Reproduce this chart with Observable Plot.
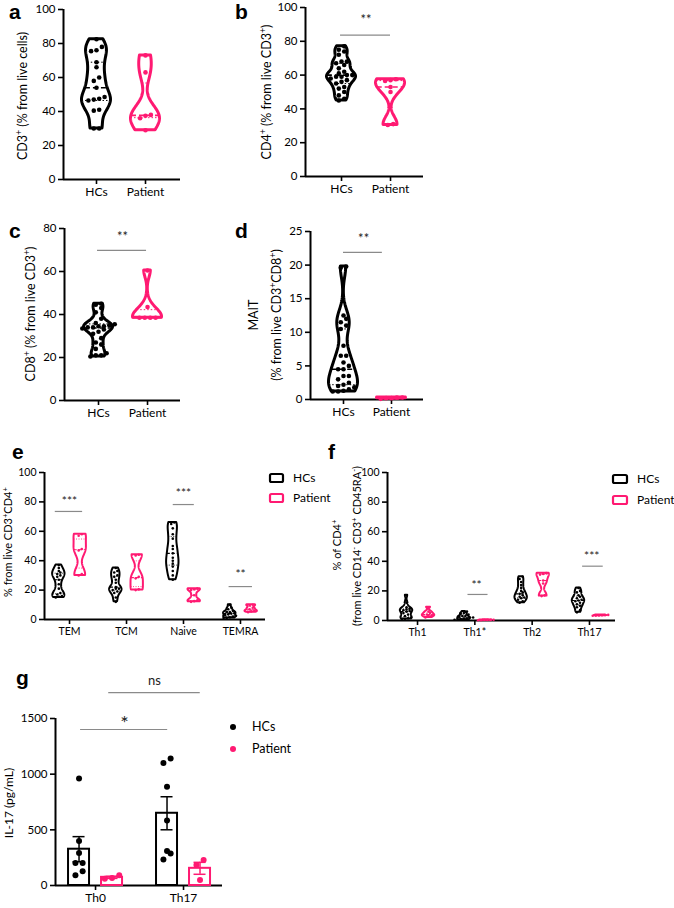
<!DOCTYPE html>
<html><head><meta charset="utf-8">
<script src="https://cdn.jsdelivr.net/npm/d3@7"></script>
<script src="https://cdn.jsdelivr.net/npm/@observablehq/plot@0.6"></script>
<style>
body{margin:0;background:#fff;}
#fig{position:relative;width:674px;height:908px;overflow:hidden;background:#fff;}
</style></head><body><div id="fig"></div>
<script>
const PINK = "#ff1a72";
const BLACK = "#000000";
const FONT = "Lato, 'Open Sans', sans-serif";

// ---------- data ----------
const groupsAD = ["HCs", "Patient"];
// a: CD3+ (% from live cells)
const aHCs = [82.5, 78, 76, 75.5, 69, 66, 60, 58, 54, 48.5, 47.5, 47, 46.5, 41, 40.5, 30, 30];
const aPatient = [73, 63, 38, 37.5, 36, 29];
// b: CD4+ (% from live CD3+)
const bHCs = [77, 75, 74, 72, 68, 68, 67, 66, 64, 62, 61, 60, 60, 59, 59, 58, 57, 56, 55, 53, 52, 50, 48, 46, 45];
const bPatient = [57.5, 57, 56.5, 53, 50, 31, 30.5];
// c: CD8+ (% from live CD3+)
const cHCs = [45, 44.5, 43, 41, 38, 36, 35.5, 35, 34.5, 34.5, 34, 34, 33.5, 33, 32, 31, 29, 27, 26, 24, 22, 21, 21, 20.5];
const cPatient = [60.5, 43.5, 38.5, 38.5, 38.5, 38.5];
// d: MAIT (% from live CD3+CD8+)
const dHCs = [19.8, 19.6, 12.5, 12, 11.5, 11, 10.5, 8, 6.5, 6.5, 5.5, 5, 4.5, 4.5, 3.5, 3.5, 3, 2.5, 2.2, 2, 1.8, 1.5, 1.3, 1.2, 1.2];
const dPatient = [0.1, 0.2, 0.2, 0.3, 0.3];
// e: % from live CD3+CD4+
const eCats = ["TEM", "TCM", "Naive", "TEMRA"];
const eHCs = [
  [37, 35, 33, 32, 31, 30, 29, 27, 24, 21, 18, 17, 16, 15.5, 15],
  [35, 33, 32, 30, 29, 27, 25, 22, 21, 21, 20, 19, 18, 15, 12],
  [66, 65, 62, 58, 55, 50, 48, 45, 42, 40, 38, 36, 33, 30, 27],
  [10, 8, 7, 6, 5, 5, 4.5, 4, 3.5, 3, 2.5, 2, 1.5, 1, 1]
];
const ePatient = [
  [58, 57, 48, 47, 31, 30],
  [44, 43.5, 29, 28, 20.5, 20],
  [21, 20.5, 20, 16.5, 13, 12.5, 12],
  [10, 9.5, 8, 7, 6, 5.5, 5]
];
// f: % of CD4+ (from live CD14- CD3+ CD45RA-)
const fCats = ["Th1", "Th1*", "Th2", "Th17"];
const fHCs = [
  [17, 12, 9, 8, 7.5, 7, 6.5, 6, 5, 4, 3, 2, 1.5, 1, 1],
  [6, 5, 4.5, 4, 3, 3, 2.5, 2, 2, 1.5, 1, 1, 0.5, 0.5],
  [29.5, 28, 26, 24, 22, 20, 19, 18, 17, 16, 15.5, 15, 14, 13, 12],
  [22, 20, 19, 17, 16, 15, 14, 13.5, 13, 12, 11, 10, 9, 7, 5.5]
];
const fPatient = [
  [9, 6, 5, 4, 3.5, 3, 2],
  [0.5, 0.4, 0.3, 0.3, 0.2, 0.2],
  [32, 31.5, 31, 27, 25, 17, 16.5],
  [3.8, 3.7, 3.5, 3.4, 3.3, 3.2]
];
// g: IL-17 (pg/mL)
const gCats = ["Th0", "Th17"];
const gHCs = [[962, 400, 293, 203, 203, 128, 93], [1141, 1100, 887, 583, 311, 287, 233]];
const gPatient = [[92, 68, 60], [228, 185, 50]];

const ticks100 = [0, 20, 40, 60, 80, 100];
const ticks80 = [0, 20, 40, 60, 80];
const ticks25 = [0, 5, 10, 15, 20, 25];
const ticks1500 = [0, 500, 1000, 1500];

// ---------- helpers ----------
const fig = document.getElementById("fig");

function kdeAt(values, h, y) {
  let s = 0;
  for (const v of values) { const u = (y - v) / h; s += Math.exp(-0.5 * u * u); }
  return s;
}

function rowsSpread(values, cx, P) {
  const s = 2 * P.r + P.gap;
  const sorted = [...values].sort((a, b) => a - b);
  const rows = [];
  for (const v of sorted) {
    const ypx = v * P.pxY;
    const last = rows[rows.length - 1];
    if (last && ypx - last.start < s * 0.85) last.items.push(v);
    else rows.push({start: ypx, items: [v]});
  }
  const out = [];
  for (const row of rows) {
    const m = row.items.length;
    row.items.forEach((v, i) => out.push({x: cx + ((i - (m - 1) / 2) * s) / P.pxX, y: v}));
  }
  return out;
}

function violinMarks(values, cx, color, P) {
  const min = d3.min(values), max = d3.max(values), n = values.length;
  const sd = d3.deviation(values) || 0;
  let h = P.bw * sd * Math.pow(n, -0.2);
  h = Math.max(h, (max - min) * 0.05, 1e-3);
  const N = 90;
  const ys = d3.range(N + 1).map(i => min + (max - min) * i / N);
  const dens = ys.map(y => kdeAt(values, h, y));
  const dmax = d3.max(dens);
  const hwU = P.hw / P.pxX;
  const shape = ys.map((y, i) => ({y, x1: cx - dens[i] / dmax * hwU, x2: cx + dens[i] / dmax * hwU}));
  const q = [0.25, 0.5, 0.75].map(p => {
    const y = d3.quantile(values, p);
    const w = kdeAt(values, h, y) / dmax * hwU;
    return {p, y, x1: cx - w, x2: cx + w};
  });
  const dots = rowsSpread(values, cx, P);
  return [
    Plot.areaX(shape, {y: "y", x1: "x1", x2: "x2", fill: "white", stroke: color, strokeWidth: P.sw, strokeLinejoin: "round", curve: "linear"}),
    Plot.ruleY(q.filter(d => d.p !== 0.5), {y: "y", x1: "x1", x2: "x2", stroke: color, strokeWidth: P.qw, strokeDasharray: P.qdash}),
    Plot.ruleY(q.filter(d => d.p === 0.5), {y: "y", x1: "x1", x2: "x2", stroke: color, strokeWidth: P.mw, strokeDasharray: P.mdash}),
    Plot.dot(dots, {x: "x", y: "y", r: P.r, fill: color, stroke: "none"})
  ];
}

function statMarks(stats) {
  const m = [];
  for (const s of stats) {
    m.push(Plot.ruleY([s], {y: "y", x1: "x1", x2: "x2", stroke: "#8a8a8a", strokeWidth: 1.2}));
    m.push(Plot.text([s], {x: "tx", y: "ty", text: "label", fontSize: s.size, fill: "#222", fontWeight: s.weight || "normal"}));
  }
  return m;
}

function place(svg, left, top) {
  svg.style.position = "absolute";
  svg.style.left = left + "px";
  svg.style.top = top + "px";
  fig.appendChild(svg);
}

function basePlot(P, marks) {
  return Plot.plot({
    width: P.width, height: P.height,
    marginLeft: P.ml, marginRight: P.mr, marginTop: P.mt, marginBottom: P.mb,
    x: {domain: P.xDomain},
    y: {domain: P.yDomain},
    style: {fontFamily: FONT, fontSize: P.tickFont + "px", color: "#000", background: "transparent", overflow: "visible"},
    marks: [
      Plot.axisY({ticks: P.yTicks, tickSize: 5, tickPadding: 3, fontSize: P.tickFont, strokeWidth: 1.6, label: null, tickFormat: d => String(d)}),
      Plot.axisX({ticks: d3.range(1, P.cats.length + 1), tickSize: 5, tickPadding: 3, fontSize: P.catFont, strokeWidth: 1.6, label: null, tickFormat: d => P.cats[Math.round(d) - 1]}),
      Plot.ruleX([P.xDomain[0]], {strokeWidth: 2}),
      Plot.ruleY([P.yDomain[0]], {strokeWidth: 2}),
      ...marks
    ]
  });
}

function violinPanel(P) {
  P.pxX = (P.width - P.ml - P.mr) / (P.xDomain[1] - P.xDomain[0]);
  P.pxY = (P.height - P.mt - P.mb) / (P.yDomain[1] - P.yDomain[0]);
  const marks = [];
  P.series.forEach(s => {
    s.data.forEach((vals, i) => {
      marks.push(...violinMarks(vals, i + 1 + s.offset / P.pxX, s.color, P));
    });
  });
  marks.push(...statMarks(P.stats || []));
  place(basePlot(P, marks), P.left, P.top);
}

const bigStyle = {hw: 14.5, sw: 3, r: 2.3, gap: 0.8, bw: 0.55, qw: 1, qdash: "1.5,2", mw: 1.6, mdash: "5,3", tickFont: 11.5, catFont: 12};
const smallStyle = {hw: 6.2, sw: 2, r: 1.3, gap: 0.5, bw: 0.55, qw: 0.8, qdash: "1,1.5", mw: 1.1, mdash: "3,2", tickFont: 10.5, catFont: 10.5};

// a
violinPanel({...bigStyle, left: 0, top: 0, width: 190, height: 205, ml: 63, mr: 10, mt: 9, mb: 26,
  xDomain: [0.327, 2.714], yDomain: [0, 100], yTicks: ticks100, cats: groupsAD,
  series: [{data: [aHCs], offset: 0, color: BLACK}, {data: [aPatient], offset: 49, color: PINK}]
});
// b
violinPanel({...bigStyle, left: 240, top: 0, width: 190, height: 205, ml: 65, mr: 7, mt: 7, mb: 29,
  xDomain: [0.265, 2.673], yDomain: [0, 100], yTicks: ticks100, cats: groupsAD,
  series: [{data: [bHCs], offset: 0, color: BLACK}, {data: [bPatient], offset: 49, color: PINK}],
  stats: [{x1: 0.98, x2: 2.0, y: 83.6, tx: 1.5, ty: 92.5, label: "**", size: 13}]
});
// c
violinPanel({...bigStyle, left: 0, top: 215, width: 190, height: 210, ml: 64, mr: 10, mt: 13, mb: 25,
  xDomain: [0.306, 2.673], yDomain: [0, 80], yTicks: ticks80, cats: groupsAD,
  series: [{data: [cHCs], offset: 0, color: BLACK}, {data: [cPatient], offset: 49, color: PINK}],
  stats: [{x1: 0.98, x2: 1.98, y: 69.8, tx: 1.49, ty: 76, label: "**", size: 13}]
});
// d
violinPanel({...bigStyle, left: 240, top: 215, width: 190, height: 210, ml: 70, mr: 7, mt: 16, mb: 26,
  xDomain: [0.3125, 2.667], yDomain: [0, 25], yTicks: ticks25, cats: groupsAD,
  series: [{data: [dHCs], offset: 0, color: BLACK}, {data: [dPatient], offset: 48, color: PINK}],
  stats: [{x1: 1.0, x2: 1.81, y: 21.9, tx: 1.42, ty: 23.9, label: "**", size: 13}]
});
// e
violinPanel({...smallStyle, left: 0, top: 460, width: 275, height: 180, ml: 44, mr: 10, mt: 12, mb: 21,
  xDomain: [0.561, 4.439], yDomain: [0, 100], yTicks: ticks100, cats: eCats,
  series: [{data: eHCs, offset: -10.7, color: BLACK}, {data: ePatient, offset: 10.7, color: PINK}],
  stats: [
    {x1: 0.75, x2: 1.23, y: 73.5, tx: 1.0, ty: 80.6, label: "***", size: 12},
    {x1: 2.82, x2: 3.19, y: 78.2, tx: 3.0, ty: 85.7, label: "***", size: 12},
    {x1: 3.8, x2: 4.21, y: 22.4, tx: 4.0, ty: 30.6, label: "**", size: 12}
  ]
});
// f
violinPanel({...smallStyle, left: 330, top: 460, width: 300, height: 180, ml: 57, mr: 15, mt: 12, mb: 20,
  xDomain: [0.476, 4.454], yDomain: [0, 100], yTicks: ticks100, cats: fCats,
  series: [{data: fHCs, offset: -11, color: BLACK}, {data: fPatient, offset: 11, color: PINK}],
  stats: [
    {x1: 1.88, x2: 2.23, y: 17.6, tx: 2.03, ty: 24, label: "**", size: 12},
    {x1: 3.88, x2: 4.24, y: 36.7, tx: 4.04, ty: 43.2, label: "***", size: 12}
  ]
});

// g: bars with mean ± SEM
(function () {
  const P = {left: 0, top: 670, width: 230, height: 238, ml: 55, mr: 8, mt: 48, mb: 23,
    xDomain: [0.545, 2.443], yDomain: [0, 1500], yTicks: ticks1500, cats: gCats, tickFont: 11.5, catFont: 12,
    r: 3, gap: 1.2};
  P.pxX = (P.width - P.ml - P.mr) / (P.xDomain[1] - P.xDomain[0]);
  P.pxY = (P.height - P.mt - P.mb) / (P.yDomain[1] - P.yDomain[0]);
  const halfBar = 10.5 / P.pxX, capHalf = 6 / P.pxX;
  const summary = [];
  const dots = [];
  [[gHCs, -16.5, BLACK], [gPatient, 16.5, PINK]].forEach(([data, off, color]) => {
    data.forEach((vals, i) => {
      const cx = i + 1 + off / P.pxX;
      const mean = d3.mean(vals);
      const sem = d3.deviation(vals) / Math.sqrt(vals.length);
      summary.push({cx, mean, lo: mean - sem, hi: mean + sem, color});
      rowsSpread(vals, cx, P).forEach(d => dots.push({...d, color}));
    });
  });
  const marks = [
    Plot.rectY(summary, {x1: d => d.cx - halfBar, x2: d => d.cx + halfBar, y1: 0, y2: "mean", fill: "white", stroke: "color", strokeWidth: 2}),
    Plot.ruleX(summary, {x: "cx", y1: "lo", y2: "hi", stroke: "color", strokeWidth: 1.5}),
    Plot.ruleY(summary, {y: "hi", x1: d => d.cx - capHalf, x2: d => d.cx + capHalf, stroke: "color", strokeWidth: 1.5}),
    Plot.ruleY(summary, {y: "lo", x1: d => d.cx - capHalf, x2: d => d.cx + capHalf, stroke: "color", strokeWidth: 1.5}),
    Plot.dot(dots, {x: "x", y: "y", r: P.r, fill: "color", stroke: "none"}),
    ...statMarks([
      {x1: 0.83, x2: 1.82, y: 1401, tx: 1.33, ty: 1458, label: "*", size: 20},
      {x1: 1.15, x2: 2.19, y: 1733, tx: 1.67, ty: 1841, label: "ns", size: 13}
    ])
  ];
  place(basePlot(P, marks), P.left, P.top);
})();

// ---------- overlay text: panel letters, axis titles, legends ----------
const ov = d3.select("#fig").append("svg")
  .attr("width", 674).attr("height", 908)
  .style("position", "absolute").style("left", "0px").style("top", "0px");

function label(x, y, parts, o = {}) {
  const size = o.size || 11;
  const t = ov.append("text").attr("x", x).attr("y", y)
    .attr("font-size", size).attr("font-family", o.family || FONT)
    .attr("text-anchor", o.anchor || "start").attr("font-weight", o.weight || "normal")
    .attr("fill", o.fill || "#000");
  if (o.rotate) t.attr("transform", `rotate(${o.rotate},${x},${y})`);
  let shifted = false;
  const sh = size * 0.4;
  for (const p of parts) {
    if (typeof p === "string") {
      const ts = t.append("tspan").text(p);
      if (shifted) { ts.attr("dy", sh); shifted = false; }
    } else {
      const ts = t.append("tspan").attr("font-size", size * 0.7).text(p.sup);
      if (!shifted) { ts.attr("dy", -sh); shifted = true; }
    }
  }
  return t;
}

const L = {family: "'Liberation Sans', Arial, sans-serif", weight: "bold", size: 21};
label(9, 19, ["a"], L);
label(235, 19, ["b"], L);
label(9, 238, ["c"], L);
label(235, 238, ["d"], L);
label(12, 459, ["e"], L);
label(328, 459, ["f"], L);
label(16, 685, ["g"], L);

const R = {rotate: -90, anchor: "middle", size: 12.5};
label(27, 96, ["CD3", {sup: "+"}, " (% from live cells)"], R);
label(271, 92, ["CD4", {sup: "+"}, " (% from live CD3", {sup: "+"}, ")"], R);
label(35, 314, ["CD8", {sup: "+"}, " (% from live CD3", {sup: "+"}, ")"], R);
label(258, 315, ["MAIT"], R);
label(281, 315, ["(% from live CD3", {sup: "+"}, "CD8", {sup: "+"}, ")"], R);
label(12, 542, ["% from live CD3", {sup: "+"}, "CD4", {sup: "+"}], {...R, size: 11});
label(341, 545, ["% of CD4", {sup: "+"}], {...R, size: 11});
label(361, 546, ["(from live CD14", {sup: "-"}, " CD3", {sup: "+"}, " CD45RA", {sup: "-"}, ")"], {...R, size: 11});
label(13, 803, ["IL-17 (pg/mL)"], {...R, size: 12});

// legends
[[270, 474, BLACK, "HCs"], [270, 494, PINK, "Patient"]].forEach(([x, y, c, t]) => {
  ov.append("rect").attr("x", x).attr("y", y).attr("width", 13).attr("height", 8).attr("rx", 1.5)
    .attr("fill", "none").attr("stroke", c).attr("stroke-width", 2.2);
  label(x + 23, y + 8, [t], {size: 12});
});
[[613, 475, BLACK, "HCs"], [613, 496, PINK, "Patient"]].forEach(([x, y, c, t]) => {
  ov.append("rect").attr("x", x).attr("y", y).attr("width", 14).attr("height", 8).attr("rx", 1.5)
    .attr("fill", "none").attr("stroke", c).attr("stroke-width", 2.2);
  label(x + 24, y + 8, [t], {size: 12});
});
[[233, 727, BLACK, "HCs"], [233, 749, PINK, "Patient"]].forEach(([x, y, c, t]) => {
  ov.append("circle").attr("cx", x).attr("cy", y).attr("r", 3).attr("fill", c);
  label(x + 19, y + 4, [t], {size: 12.5});
});
</script>
</body></html>
